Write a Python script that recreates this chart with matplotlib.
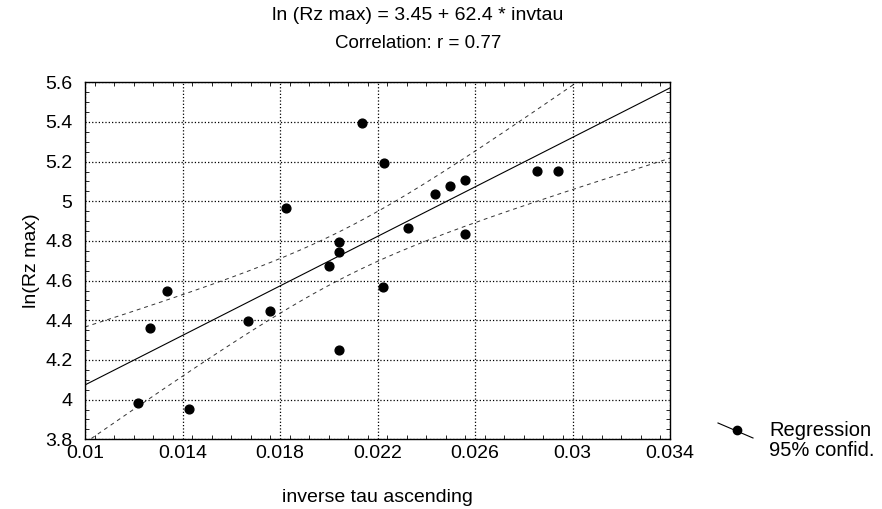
import numpy as np
import matplotlib.pyplot as plt
from matplotlib.ticker import FixedLocator, MultipleLocator
from matplotlib.lines import Line2D

plt.rcParams['font.family'] = ['Liberation Sans', 'DejaVu Sans']

# data
invtau = [0.01218, 0.01266, 0.01337, 0.01425, 0.01668, 0.01757, 0.01824,
          0.01999, 0.0204, 0.0204, 0.0204, 0.02135, 0.02223, 0.02225,
          0.02323, 0.02436, 0.02496, 0.0256, 0.0256, 0.02854, 0.02939]
ln_rz = [3.983, 4.36, 4.547, 3.951, 4.397, 4.449, 4.968,
         4.674, 4.25, 4.746, 4.795, 5.395, 4.567, 5.192,
         4.866, 5.039, 5.079, 5.109, 4.837, 5.153, 5.153]
intercept = 3.45
slope = 62.4
t_crit = 2.093  # df = 19
xticks = [0.01, 0.014, 0.018, 0.022, 0.026, 0.03, 0.034]
yticks = [3.8, 4.0, 4.2, 4.4, 4.6, 4.8, 5.0, 5.2, 5.4, 5.6]

x = np.array(invtau)
y = np.array(ln_rz)
n = len(x)
resid = y - (intercept + slope * x)
s = np.sqrt(np.sum(resid ** 2) / (n - 2))
sxx = np.sum((x - x.mean()) ** 2)

xx = np.linspace(xticks[0], xticks[-1], 200)
fit = intercept + slope * xx
half = t_crit * s * np.sqrt(1 / n + (xx - x.mean()) ** 2 / sxx)

fig = plt.figure(figsize=(8.82, 5.09), dpi=100)
ax = fig.add_axes([0.0964, 0.137, 0.6633, 0.7014])

ax.plot(xx, fit, color='black', lw=0.8)
ax.plot(xx, fit + half, color='#333333', lw=0.7, ls=(0, (4, 4)))
ax.plot(xx, fit - half, color='#333333', lw=0.7, ls=(0, (4, 4)))
ax.scatter(x, y, s=40, color='black', zorder=3)

ax.set_xlim(xticks[0], xticks[-1])
ax.set_ylim(yticks[0], yticks[-1])
ax.xaxis.set_major_locator(FixedLocator(xticks))
ax.xaxis.set_minor_locator(MultipleLocator(0.0008))
ax.yaxis.set_major_locator(FixedLocator(yticks))
ax.yaxis.set_minor_locator(MultipleLocator(0.05))
ax.set_xticklabels([f"{v:g}" for v in xticks])
ax.set_yticklabels([f"{v:g}" for v in yticks])
ax.tick_params(which='both', direction='in', top=True, right=True, labelsize=14)
ax.tick_params(which='major', length=0)
ax.tick_params(axis='x', which='major', pad=4)
ax.tick_params(axis='y', which='major', pad=9)
ax.tick_params(which='minor', length=3)
ax.grid(True, color='black', ls=':', lw=0.9)
for sp in ax.spines.values():
    sp.set_linewidth(1.0)

ax.set_xlabel("inverse tau ascending", fontsize=14)
ax.set_ylabel("ln(Rz max)", fontsize=14)
ax.xaxis.set_label_coords(0.5, -0.138)
ax.yaxis.set_label_coords(-0.077, 0.5)

fig.text(0.474, 1 - 15 / 509, "ln (Rz max) = 3.45 + 62.4 * invtau", ha='center', va='center', fontsize=14)
fig.text(0.474, 1 - 43 / 509, "Correlation: r = 0.77", ha='center', va='center', fontsize=13.5)

# legend drawn by hand
fig.add_artist(Line2D([718 / 882, 753 / 882], [1 - 423 / 509, 1 - 438 / 509],
                      color='black', lw=0.8))
fig.add_artist(Line2D([737 / 882], [1 - 430 / 509], marker='o', ms=6,
                      color='black'))
fig.text(769 / 882, 1 - 430 / 509, "Regression", fontsize=14.5, va='center')
fig.text(769 / 882, 1 - 450 / 509, "95% confid.", fontsize=14.5, va='center')

fig.savefig("out.png", dpi=100)
